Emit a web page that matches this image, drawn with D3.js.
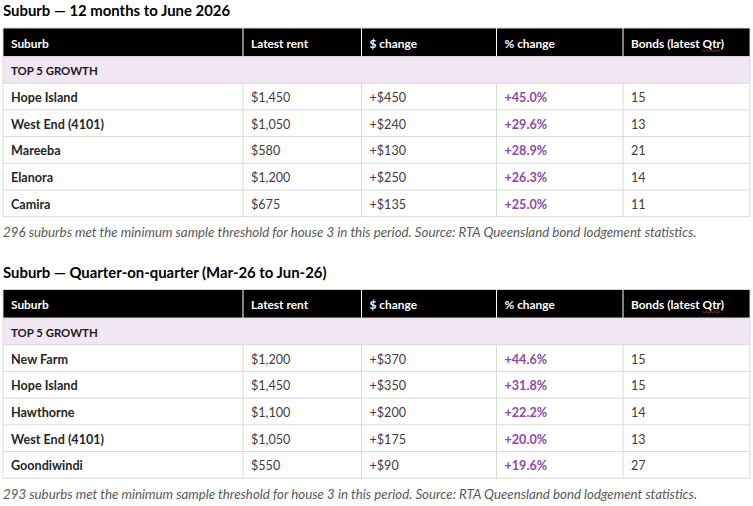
<!DOCTYPE html>
<html>
<head>
<meta charset="utf-8">
<script src="https://cdn.jsdelivr.net/npm/d3@7"></script>
<style>
  body { margin: 0; background: #fff; }
  svg { display: block; font-family: "Lato", "Open Sans", sans-serif; }
</style>
</head>
<body>
<svg id="chart" width="753" height="506"></svg>
<script>
// column headers shared by both tables
const columns = ["Suburb", "Latest rent", "$ change", "% change", "Bonds (latest Qtr)"];
const groupLabel = "TOP 5 GROWTH";

// table 1: 12 months to June 2026
const title1 = "Suburb \u2014 12 months to June 2026";
const suburbs1 = ["Hope Island", "West End (4101)", "Mareeba", "Elanora", "Camira"];
const rents1 = [1450, 1050, 580, 1200, 675];
const changes1 = [450, 240, 130, 250, 135];
const pcts1 = [45.0, 29.6, 28.9, 26.3, 25.0];
const bonds1 = [15, 13, 21, 14, 11];
const note1 = "296 suburbs met the minimum sample threshold for house 3 in this period. Source: RTA Queensland bond lodgement statistics.";

// table 2: quarter-on-quarter
const title2 = "Suburb \u2014 Quarter-on-quarter (Mar-26 to Jun-26)";
const suburbs2 = ["New Farm", "Hope Island", "Hawthorne", "West End (4101)", "Goondiwindi"];
const rents2 = [1200, 1450, 1100, 1050, 550];
const changes2 = [370, 350, 200, 175, 90];
const pcts2 = [44.6, 31.8, 22.2, 20.0, 19.6];
const bonds2 = [15, 15, 14, 13, 27];
const note2 = "293 suburbs met the minimum sample threshold for house 3 in this period. Source: RTA Queensland bond lodgement statistics.";

const svg = d3.select("#chart");

const colEdges = [3, 243, 361.5, 496.5, 623, 750];
const headH = 28.5, rowH = 26.7;
const fmtMoney = d3.format("$,");
const fmtPct = d3.format("+.1f");
const purple = "#8e4aa6";
const border = "#d9d9d9";

function drawTable(top, title, suburbs, rents, changes, pcts, bonds, note) {
    const g = svg.append("g");

    // row index -> y; row 0 is the group label row
    const y = d3.scaleLinear().domain([0, 1]).range([top + headH, top + headH + rowH]);
    const nRows = suburbs.length + 1;

    g.append("text")
        .attr("x", 3).attr("y", top - 18)
        .attr("dominant-baseline", "central")
        .attr("font-size", 14.9).attr("font-weight", 700).attr("fill", "#000")
        .text(title);

    // header
    g.append("rect")
        .attr("x", colEdges[0]).attr("y", top)
        .attr("width", colEdges[5] - colEdges[0]).attr("height", headH)
        .attr("fill", "#000");
    g.selectAll(".hsep")
        .data(colEdges.slice(1, -1))
        .join("line")
        .attr("x1", d => d).attr("x2", d => d)
        .attr("y1", top).attr("y2", top + headH)
        .attr("stroke", "#fff").attr("stroke-width", 1);
    const heads = g.selectAll(".head")
        .data(columns)
        .join("text")
        .attr("x", (d, i) => colEdges[i] + 8)
        .attr("y", top + headH / 2 + 1)
        .attr("dominant-baseline", "central")
        .attr("font-size", 11.9).attr("font-weight", 700).attr("fill", "#fff")
        .text(d => d);

    // spell-check squiggle under "Qtr"
    const last = heads.filter((d, i) => i === 4).node();
    const qi = columns[4].indexOf("Qtr");
    const qx = colEdges[4] + 8 + last.getSubStringLength(0, qi);
    const qw = last.getSubStringLength(qi, 3);
    const qy = top + headH / 2 + 8;
    const pts = d3.range(0, Math.floor(qw / 2) + 1).map(k => [qx + k * 2, qy + (k % 2 ? 1.2 : -0.2)]);
    g.append("path")
        .attr("d", d3.line()(pts))
        .attr("fill", "none").attr("stroke", "#e02020").attr("stroke-width", 0.9);

    // group label row
    g.append("rect")
        .attr("x", colEdges[0]).attr("y", y(0))
        .attr("width", colEdges[5] - colEdges[0]).attr("height", rowH)
        .attr("fill", "#f1e6f4");
    g.append("text")
        .attr("x", colEdges[0] + 8).attr("y", y(0.5) + 1)
        .attr("dominant-baseline", "central")
        .attr("font-size", 11.4).attr("font-weight", 700).attr("fill", "#1a1a1a")
        .text(groupLabel);

    // body cells
    const rows = suburbs.map((s, i) => [
        {t: s, w: 700, c: "#262626"},
        {t: fmtMoney(rents[i]), w: 400, c: "#404040"},
        {t: "+" + fmtMoney(changes[i]), w: 400, c: "#404040"},
        {t: fmtPct(pcts[i]) + "%", w: 700, c: purple},
        {t: String(bonds[i]), w: 400, c: "#404040"}
    ]);
    rows.forEach((r, i) => {
        g.selectAll(".c" + i)
            .data(r)
            .join("text")
            .attr("x", (d, j) => colEdges[j] + 8)
            .attr("y", y(i + 1.5) + 1)
            .attr("dominant-baseline", "central")
            .attr("font-size", 12.6).attr("font-weight", d => d.w).attr("fill", d => d.c)
            .text(d => d.t);
    });

    // grid lines
    g.selectAll(".hl")
        .data(d3.range(0, nRows + 1))
        .join("line")
        .attr("x1", colEdges[0]).attr("x2", colEdges[5])
        .attr("y1", d => y(d)).attr("y2", d => y(d))
        .attr("stroke", border).attr("stroke-width", 1);
    g.selectAll(".vl")
        .data(colEdges)
        .join("line")
        .attr("x1", d => d).attr("x2", d => d)
        .attr("y1", (d, i) => (i === 0 || i === 5) ? top : y(1))
        .attr("y2", y(nRows))
        .attr("stroke", border).attr("stroke-width", 1);
    g.append("line")
        .attr("x1", colEdges[0]).attr("x2", colEdges[5])
        .attr("y1", top).attr("y2", top)
        .attr("stroke", border);

    g.append("text")
        .attr("x", 3).attr("y", y(nRows) + 15.5)
        .attr("dominant-baseline", "central")
        .attr("font-size", 13.3).attr("font-style", "italic").attr("fill", "#595959")
        .text(note);
}

drawTable(28, title1, suburbs1, rents1, changes1, pcts1, bonds1, note1);
drawTable(289.5, title2, suburbs2, rents2, changes2, pcts2, bonds2, note2);
</script>
</body>
</html>
